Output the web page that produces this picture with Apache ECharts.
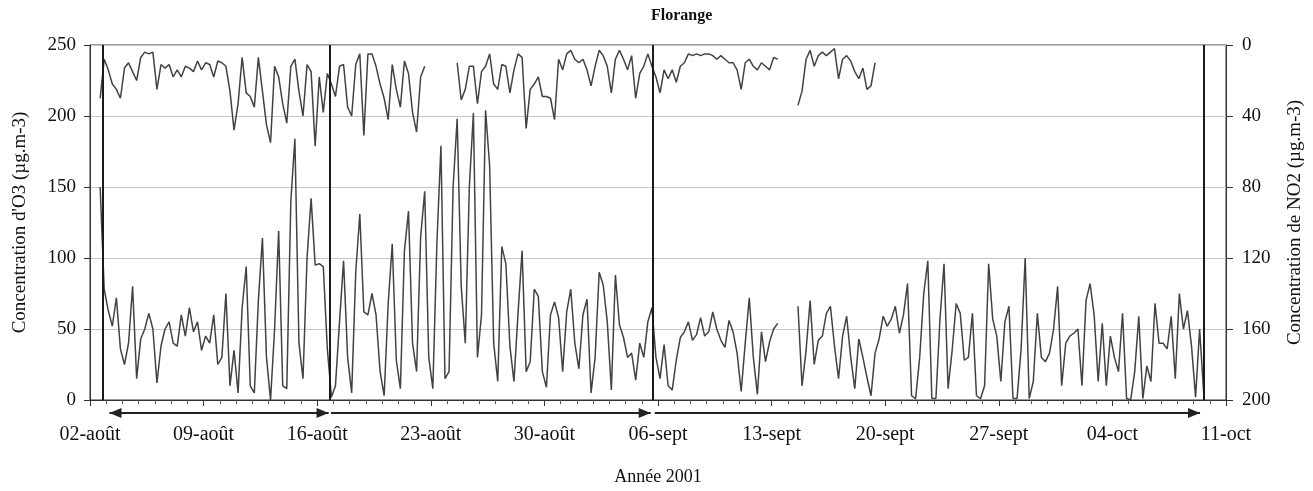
<!DOCTYPE html>
<html>
<head>
<meta charset="utf-8">
<script src="https://cdn.jsdelivr.net/npm/echarts@6/dist/echarts.min.js"></script>
<style>html,body{margin:0;padding:0;background:#fff;}#c{width:1313px;height:491px;}</style>
</head>
<body>
<div id="c"></div>
<script>
// x axis: days since 02-août-2001 00:00; one tick label per week
const tickLabels = ['02-août','09-août','16-août','23-août','30-août','06-sept','13-sept','20-sept','27-sept','04-oct','11-oct'];
// each day holds 4 samples, taken at these hours
const sampleHours = [3, 9, 15, 21];

// O3 (µg.m-3), left axis, 4 values per day from 02-août to 10-oct
const o3 = [
  null,null,150,78,  63,52,72,36,  25,40,80,15,  43,50,61,50,  12,38,50,55,
  40,38,60,45,  65,48,55,35,  45,40,60,25,  30,75,10,35,  5,65,94,10,
  5,70,114,30,  0,50,119,10,  8,140,184,40,  15,100,142,95,  96,94,36,2,
  10,55,98,30,  5,90,131,62,  60,75,60,20,  3,68,110,28,  8,105,133,40,
  20,115,147,30,  8,110,179,15,  20,150,198,80,  40,150,202,30,  60,204,165,40,
  13,108,96,38,  13,61,105,20,  27,78,73,20,  9,60,69,58,  20,62,78,40,
  22,60,71,5,  30,90,81,55,  7,88,53,44,  30,33,14,40,  30,55,65,30,
  15,39,10,7,  28,44,48,55,  42,46,58,45,  48,62,50,42,  37,56,48,33,
  6,40,72,30,  4,48,27,41,  50,54,null,null,  null,null,66,10,  35,70,25,42,
  45,61,66,38,  15,45,59,30,  8,43,30,16,  3,33,43,59,  52,57,66,47,
  60,82,3,1,  30,75,98,1,  1,57,96,8,  35,68,61,28,  30,61,3,1,
  10,96,57,45,  13,55,66,1,  1,36,100,1,  13,61,30,27,  33,50,80,10,
  40,45,47,50,  10,70,82,60,  13,54,10,45,  30,20,61,1,  0,20,59,1,
  24,13,68,40,  40,36,59,15,  75,50,63,38,  2,50,5,null,  null,null,null,null
];

// NO2 (µg.m-3), right (inverted) axis, 4 values per day; no data after 20-sept
const no2 = [
  null,null,30,8,  14,22,25,30,  13,10,15,20,  7,4,5,4,  25,11,13,11,
  18,14,18,12,  13,15,9,14,  10,11,18,9,  10,12,26,48,  33,7,27,29,
  35,7,26,45,  55,12,18,33,  44,12,8,26,  40,11,15,57,  18,38,16,22,
  29,12,11,35,  40,11,5,51,  5,5,12,22,  30,42,11,25,  35,9,16,38,
  49,18,12,null,  null,null,null,null,  null,null,10,31,  25,12,12,33,  15,12,5,22,
  25,11,12,27,  14,5,7,47,  25,22,18,29,  29,30,42,8,  14,5,3,8,
  10,8,14,23,  12,3,6,12,  27,8,3,8,  14,6,30,16,  12,5,12,18,
  27,14,19,14,  21,12,10,5,  6,5,6,5,  5,6,8,6,  8,10,10,14,
  25,10,8,12,  14,10,12,14,  7,8,null,null,  null,null,34,26,  8,3,12,6,
  4,6,4,2,  19,8,6,9,  15,19,13,25,  23,10,null,null
];

// vertical period separators (days since 02-août)
const periodLines = [0.8, 14.8, 34.7, 68.6];
// arrows under the axis: [from day, to day, double-headed]
const arrowSpans = [[1.2, 14.7, true], [14.85, 34.55, false], [34.8, 68.4, false]];

function toPoints(arr) {
  return arr.map((v, i) => [Math.floor(i / 4) + sampleHours[i % 4] / 24, v]);
}

const serif = 'Liberation Serif, Times New Roman, serif';
const chart = echarts.init(document.getElementById('c'));
chart.setOption({
  animation: false,
  backgroundColor: '#fff',
  title: {
    text: 'Florange', left: 646, top: 3,
    textStyle: { fontFamily: serif, fontWeight: 'bold', fontSize: 16, color: '#111' }
  },
  grid: { left: 90, right: 78, top: 45, bottom: 83, show: true, borderColor: '#333', borderWidth: 1 },
  xAxis: {
    type: 'value', min: 0, max: 70, interval: 7,
    name: 'Année 2001', nameLocation: 'middle', nameGap: 68,
    nameTextStyle: { fontFamily: serif, fontSize: 18, color: '#111' },
    axisLine: { show: true, lineStyle: { color: '#333' } },
    axisTick: { show: true, length: 6, lineStyle: { color: '#333' } },
    minorTick: { show: true, splitNumber: 7, length: 4, lineStyle: { color: '#555' } },
    splitLine: { show: false },
    axisLabel: {
      margin: 25, fontFamily: serif, fontSize: 20, color: '#111',
      formatter: v => tickLabels[Math.round(v / 7)]
    }
  },
  yAxis: [
    {
      type: 'value', min: 0, max: 250, interval: 50, position: 'left',
      name: "Concentration d'O3 (µg.m-3)", nameLocation: 'middle', nameGap: 60, nameRotate: 90,
      nameTextStyle: { fontFamily: serif, fontSize: 19, color: '#111' },
      axisLine: { show: true, lineStyle: { color: '#333' } },
      axisTick: { show: true, length: 6, lineStyle: { color: '#333' } },
      axisLabel: { margin: 14, fontFamily: serif, fontSize: 19, color: '#111' },
      splitLine: { show: true, lineStyle: { color: '#c6c6c6', width: 1 } }
    },
    {
      type: 'value', min: 0, max: 200, interval: 40, position: 'right', inverse: true,
      name: 'Concentration de NO2 (µg.m-3)', nameLocation: 'middle', nameGap: 60, nameRotate: 90,
      nameTextStyle: { fontFamily: serif, fontSize: 19, color: '#111' },
      axisLine: { show: true, lineStyle: { color: '#333' } },
      axisTick: { show: true, length: 7, lineStyle: { color: '#333' } },
      axisLabel: { margin: 16, fontFamily: serif, fontSize: 19, color: '#111' },
      splitLine: { show: false }
    }
  ],
  series: [
    {
      name: 'O3', type: 'line', yAxisIndex: 0, data: toPoints(o3),
      showSymbol: false, symbol: 'none', connectNulls: false,
      lineStyle: { color: '#424242', width: 1.5 },
      markLine: {
        silent: true, symbol: 'none', label: { show: false },
        lineStyle: { color: '#1a1a1a', width: 2, type: 'solid' },
        data: periodLines.map(d => ({ xAxis: d }))
      }
    },
    {
      name: 'NO2', type: 'line', yAxisIndex: 1, data: toPoints(no2),
      showSymbol: false, symbol: 'none', connectNulls: false,
      lineStyle: { color: '#424242', width: 1.5 }
    }
  ]
});

// arrows under the x axis, placed through the axis scale
const yBase = chart.convertToPixel({ yAxisIndex: 0 }, 0) + 13;
const gfx = [];
arrowSpans.forEach(([a, b, both]) => {
  const x1 = chart.convertToPixel({ xAxisIndex: 0 }, a);
  const x2 = chart.convertToPixel({ xAxisIndex: 0 }, b);
  gfx.push({ type: 'line', shape: { x1: x1, y1: yBase, x2: x2, y2: yBase }, style: { stroke: '#222', lineWidth: 2 } });
  gfx.push({ type: 'polygon', shape: { points: [[x2, yBase], [x2 - 12, yBase - 5], [x2 - 12, yBase + 5]] }, style: { fill: '#222' } });
  if (both) {
    gfx.push({ type: 'polygon', shape: { points: [[x1, yBase], [x1 + 12, yBase - 5], [x1 + 12, yBase + 5]] }, style: { fill: '#222' } });
  }
});
chart.setOption({ graphic: gfx });
</script>
</body>
</html>
